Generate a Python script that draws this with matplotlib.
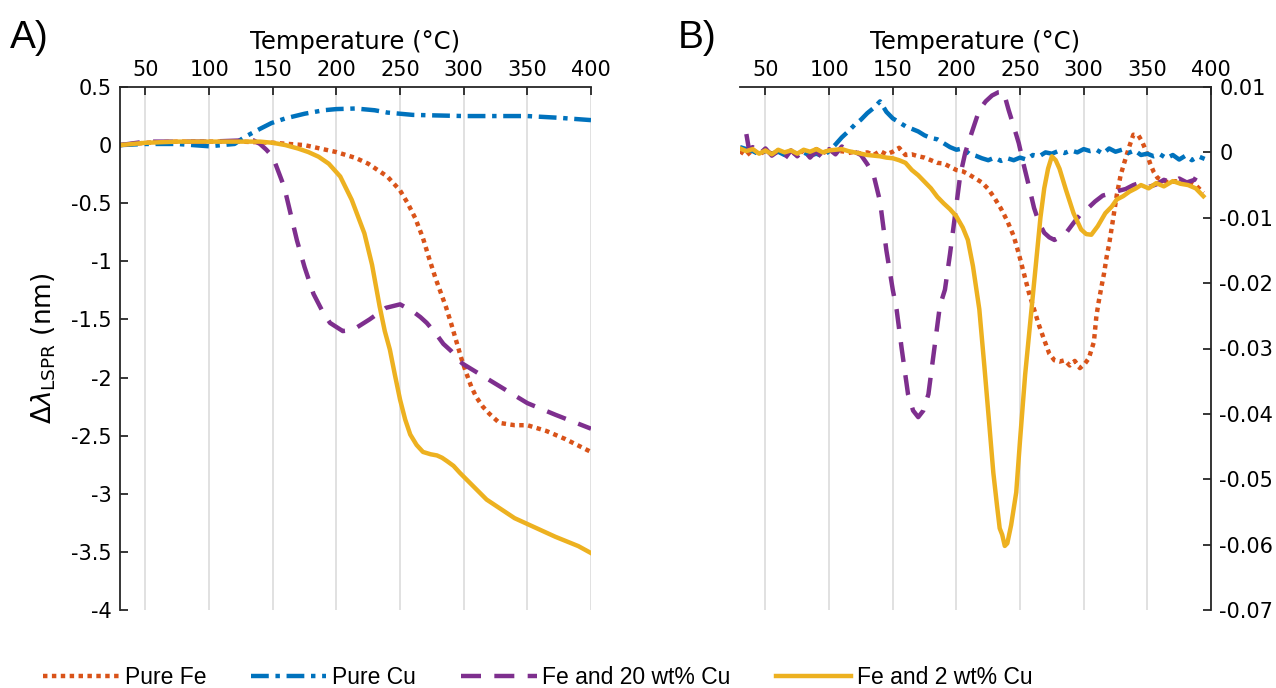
import matplotlib
matplotlib.use("Agg")
import matplotlib.pyplot as plt
import numpy as np

plt.rcParams['axes.unicode_minus'] = False
plt.rcParams['font.family'] = ['DejaVu Sans']

# ---- panel A data (temperature in C, shift in nm) ----
temp_a_fe = [30, 50, 75, 100, 125, 150, 175, 200, 215, 225, 240, 250, 256, 262, 268, 273, 278, 282, 286, 290,
             294, 298, 302, 306, 310, 315, 320, 328, 340, 350, 365, 380, 400]
fe_a = [0.0, 0.02, 0.03, 0.03, 0.03, 0.02, 0.0, -0.06, -0.11, -0.16, -0.27, -0.39, -0.5, -0.63, -0.8, -0.98,
        -1.15, -1.27, -1.39, -1.53, -1.68, -1.83, -1.96, -2.08, -2.17, -2.25, -2.31, -2.39, -2.41, -2.41, -2.46,
        -2.53, -2.64]

temp_a_cu = [30, 50, 75, 100, 110, 120, 128, 140, 149, 160, 175, 190, 200, 215, 230, 240, 250, 260, 280, 300,
             325, 350, 375, 400]
cu_a = [0.0, 0.01, 0.01, -0.01, 0.0, 0.01, 0.07, 0.14, 0.19, 0.23, 0.27, 0.30, 0.31, 0.315, 0.30, 0.28, 0.27,
        0.26, 0.255, 0.25, 0.25, 0.25, 0.235, 0.215]

temp_a_fe20 = [30, 50, 75, 100, 125, 135, 140, 145, 150, 159, 169, 175, 182, 190, 195, 205, 213, 226, 239, 250,
               260, 266, 271, 278, 284, 290, 299, 320, 350, 372, 400]
fe20_a = [0.0, 0.03, 0.03, 0.03, 0.04, 0.04, 0.01, -0.04, -0.10, -0.36, -0.82, -1.05, -1.28, -1.45, -1.53, -1.6,
          -1.59, -1.5, -1.4, -1.37, -1.43, -1.48, -1.53, -1.62, -1.71, -1.77, -1.88, -2.02, -2.22, -2.32, -2.44]

temp_a_fe2 = [30, 50, 75, 100, 125, 140, 150, 160, 170, 178, 186, 194, 203, 212, 222, 228, 234, 238, 242, 246,
              250, 254, 258, 263, 268, 274, 279, 283, 287, 292, 297, 318, 340, 372, 390, 400]
fe2_a = [0.0, 0.02, 0.03, 0.03, 0.03, 0.03, 0.02, 0.0, -0.03, -0.06, -0.1, -0.16, -0.27, -0.47, -0.76, -1.03,
         -1.39, -1.6, -1.76, -1.98, -2.19, -2.36, -2.49, -2.58, -2.64, -2.66, -2.67, -2.69, -2.72, -2.76, -2.82,
         -3.05, -3.21, -3.37, -3.45, -3.51]

# ---- panel B data (derivative, x1e-3) ----
temp_b_fe = [30, 35, 40, 45, 50, 55, 60, 65, 70, 75, 80, 85, 90, 95, 100, 105, 110, 115, 120, 125, 130, 135, 140,
             145, 150, 155, 160, 165, 170, 175, 180, 185, 190, 195, 200, 205, 210, 215, 220, 225, 230, 235, 240,
             245, 249, 253, 257, 261, 265, 269, 273, 277, 281, 285, 289, 293, 297, 301, 304, 308, 310, 312, 314,
             316, 318, 320, 323, 326, 329, 332, 336, 339, 343, 346, 349, 352, 355, 358, 362, 367, 372, 377, 382,
             388, 394]
fe_b = [0.2, -0.5, 0.4, -0.3, 0.2, -0.2, 0.3, -0.3, 0.1, -0.4, 0.3, -0.2, 0.5, -0.1, 0.3, 0.0, 0.2, -0.1, 0.1,
        -0.2, 0.0, -0.4, 0.2, -0.3, 0.1, 0.7, -0.4, -0.3, -0.6, -0.8, -1.2, -1.6, -1.7, -2.2, -2.7, -2.9, -3.4,
        -4.0, -4.6, -5.6, -7.0, -8.6, -10.5, -12.8, -15.5, -18.5, -21.5, -24.0, -26.5, -28.7, -30.8, -31.8, -32.0,
        -31.8, -32.6, -31.9, -33.0, -32.3, -31.5, -29.0, -25.0, -22.6, -20.5, -18.5, -16.0, -14.0, -10.3, -6.5,
        -3.5, -1.5, 1.0, 2.7, 2.6, 1.6, 0.2, -1.6, -3.0, -3.9, -4.3, -4.6, -4.4, -4.8, -4.5, -5.0, -6.2]

temp_b_cu = [30, 35, 40, 45, 50, 55, 60, 65, 70, 75, 80, 85, 90, 95, 100, 105, 110, 115, 120, 125, 130, 135, 140,
             145, 150, 155, 160, 165, 170, 175, 180, 185, 190, 195, 200, 205, 210, 215, 220, 225, 230, 235, 240,
             245, 250, 255, 260, 265, 270, 275, 280, 285, 290, 295, 300, 305, 310, 315, 320, 325, 330, 335, 340,
             345, 350, 355, 360, 365, 370, 375, 380, 385, 390, 395]
cu_b = [0.8, 0.5, 0.2, -0.3, 0.3, -0.2, 0.1, -0.4, 0.2, -0.3, 0.0, -0.5, -0.2, -0.6, 0.2, 1.2, 2.3, 3.2, 4.2,
        5.0, 6.0, 6.8, 7.8, 6.2, 5.2, 4.6, 4.0, 3.6, 3.2, 2.6, 2.2, 2.0, 1.4, 0.8, 0.4, 0.6, -0.2, -0.5, -0.9,
        -1.2, -0.8, -1.3, -0.9, -1.2, -0.8, -1.1, -0.4, -0.6, 0.0, -0.2, 0.2, -0.1, 0.3, 0.0, 0.5, 0.2, 0.4, -0.2,
        0.6, 0.1, 0.4, -0.1, 0.3, -0.4, -0.2, -0.6, -0.3, -0.9, -0.4, -1.1, -0.5, -1.2, -0.6, -1.0]

temp_b_fe20 = [35, 37, 40, 45, 50, 55, 60, 65, 70, 75, 80, 85, 90, 95, 100, 105, 110, 115, 120, 125, 130, 135,
               140, 145, 150, 153, 157, 162, 166, 170, 174, 178, 182, 187, 191, 195, 199, 203, 207, 212, 218, 223,
               228, 233, 237, 241, 245, 249, 253, 257, 261, 265, 269, 273, 277, 282, 287, 292, 297, 303, 309, 315,
               321, 327, 333, 339, 345, 351, 357, 363, 369, 375, 381, 387, 391]
fe20_b = [2.8, 0.5, 0.8, -0.3, 0.6, -0.5, 0.2, -1.0, 0.3, -0.6, 0.4, -0.8, 0.2, -0.9, 0.5, -0.3, 0.9, 0.2, 0.1,
          -0.4, -1.8, -3.5, -7.5, -15.0, -21.0, -24.0, -30.0, -37.0, -39.5, -40.5, -39.5, -37.0, -31.0, -23.5,
          -21.0, -15.5, -9.5, -3.5, 0.0, 3.0, 6.5, 7.8, 8.7, 9.2, 9.3, 6.5, 4.0, 1.4, -2.0, -5.2, -8.5, -10.8,
          -12.3, -13.0, -13.4, -12.9, -12.1, -10.8, -9.6, -8.6, -7.5, -6.6, -6.3, -5.9, -5.6, -5.0, -4.6, -5.3,
          -4.9, -4.2, -4.6, -4.0, -4.6, -4.2, -2.8]

temp_b_fe2 = [30, 35, 40, 45, 50, 55, 60, 65, 70, 75, 80, 85, 90, 95, 100, 105, 110, 115, 120, 125, 130, 135, 140,
              145, 150, 155, 160, 165, 170, 175, 180, 185, 190, 195, 200, 205, 209, 213, 218, 222, 226, 229, 232,
              234, 236, 238, 240, 243, 247, 250, 254, 257, 260, 263, 266, 269, 272, 275, 278, 281, 286, 292, 298,
              302, 306, 311, 317, 322, 326, 331, 336, 341, 345, 351, 357, 363, 370, 376, 382, 388, 394]
fe2_b = [0.6, 0.2, 0.5, -0.2, 0.3, -0.3, 0.4, 0.0, 0.3, -0.2, 0.4, 0.1, 0.5, 0.0, 0.3, 0.4, 0.5, 0.2, 0.0, -0.2,
         -0.4, -0.5, -0.6, -0.8, -0.9, -1.2, -1.6, -2.7, -3.5, -4.5, -5.5, -6.8, -7.8, -8.7, -9.8, -11.5, -13.4,
         -17.4, -24.0, -32.8, -42.0, -49.0, -54.2, -57.5, -58.5, -60.2, -59.8, -57.0, -52.0, -44.0, -34.0, -28.0,
         -22.0, -16.0, -10.0, -5.5, -2.5, -0.6, -1.2, -2.5, -5.7, -9.3, -11.8, -12.5, -12.6, -11.3, -9.3, -8.3,
         -7.2, -6.7, -6.0, -5.5, -5.0, -5.5, -4.7, -5.2, -4.4, -4.8, -5.0, -5.5, -6.7]

labels = ['Pure Fe', 'Pure Cu', 'Fe and 20 wt% Cu', 'Fe and 2 wt% Cu']
colors = ['#D95319', '#0072BD', '#7E2F8E', '#EDB120']
styles = [(0, (1, 1)), (0, (4, 1.5, 1, 1.5)), (0, (4.5, 3)), '-']
xticks = [50, 100, 150, 200, 250, 300, 350, 400]
spine_col = '#262626'


def style_axes(ax, side):
    ax.set_xlim(30, 400)
    ax.set_xticks(xticks)
    ax.xaxis.tick_top()
    ax.xaxis.set_label_position('top')
    ax.set_xlabel('Temperature (\u00b0C)', fontsize=17.5, labelpad=8)
    ax.grid(axis='x', color='#dcdcdc', lw=1.2)
    ax.set_axisbelow(True)
    for s in ['bottom', 'left', 'right']:
        ax.spines[s].set_visible(False)
    ax.spines['top'].set_color(spine_col)
    ax.spines['top'].set_linewidth(1.3)
    if side == 'right':
        ax.yaxis.tick_right()
    ax.spines[side].set_visible(True)
    ax.spines[side].set_color(spine_col)
    ax.spines[side].set_linewidth(1.3)
    ax.tick_params(direction='in', length=6, width=1.3, color=spine_col, labelsize=15, pad=6)
    ax.tick_params(axis='x', pad=5)


fig = plt.figure(figsize=(12.76, 6.88), dpi=100)
axA = fig.add_axes([120 / 1276, 1 - 610 / 688, 471 / 1276, 523 / 688])
axB = fig.add_axes([740 / 1276, 1 - 610 / 688, 471 / 1276, 523 / 688])

series_a = [(temp_a_fe, fe_a), (temp_a_cu, cu_a), (temp_a_fe20, fe20_a), (temp_a_fe2, fe2_a)]
series_b = [(temp_b_fe, fe_b), (temp_b_cu, cu_b), (temp_b_fe20, fe20_b), (temp_b_fe2, fe2_b)]

handles = []
for i, (t, v) in enumerate(series_a):
    h, = axA.plot(t, v, color=colors[i], ls=styles[i], lw=3.2, label=labels[i])
    handles.append(h)
for i, (t, v) in enumerate(series_b):
    axB.plot(t, np.array(v) / 1000.0, color=colors[i], ls=styles[i], lw=3.2)

style_axes(axA, 'left')
axA.set_ylim(-4, 0.5)
axA.set_yticks(np.arange(-4, 0.51, 0.5))
axA.set_yticklabels(['-4', '-3.5', '-3', '-2.5', '-2', '-1.5', '-1', '-0.5', '0', '0.5'])
axA.set_ylabel(r'$\Delta\lambda_{\mathrm{LSPR}}$ (nm)', fontsize=19)
axA.yaxis.set_label_coords(-0.132, 0.5)

style_axes(axB, 'right')
axB.set_ylim(-0.07, 0.01)
axB.set_yticks([-0.07, -0.06, -0.05, -0.04, -0.03, -0.02, -0.01, 0, 0.01])
axB.set_yticklabels(['-0.07', '-0.06', '-0.05', '-0.04', '-0.03', '-0.02', '-0.01', '0', '0.01'])

panel_font = ['Liberation Sans', 'DejaVu Sans']
fig.text(10 / 1276, 1 - 38 / 688, 'A)', fontsize=28, family=panel_font, va='center')
fig.text(678 / 1276, 1 - 38 / 688, 'B)', fontsize=28, family=panel_font, va='center')

fig.legend(handles=handles, loc='center left', bbox_to_anchor=(43 / 1276, 1 - 678 / 688), ncol=4,
           frameon=False, handlelength=3.3, handletextpad=0.26, columnspacing=1.95, borderpad=0,
           borderaxespad=0, prop={'family': panel_font, 'size': 16.5})

fig.savefig('out.png', dpi=100)
